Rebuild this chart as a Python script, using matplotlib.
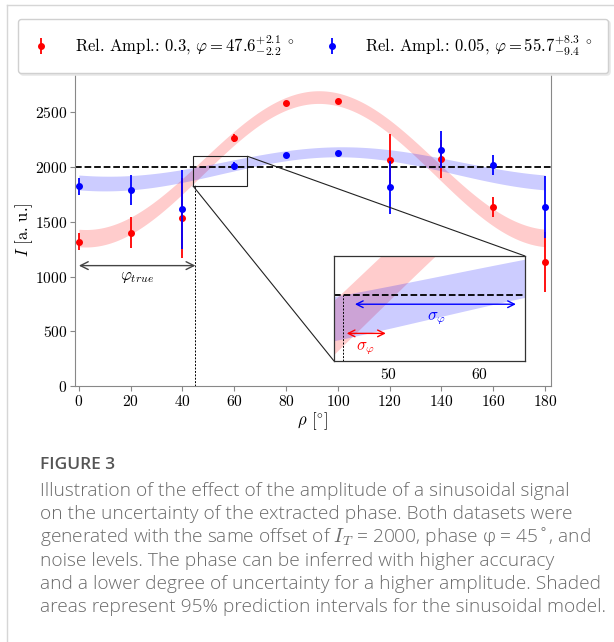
import numpy as np
import matplotlib
matplotlib.use('Agg')
import matplotlib.pyplot as plt
from matplotlib.lines import Line2D
from mpl_toolkits.axes_grid1.inset_locator import mark_inset

# ---- data ----
rho = [0, 20, 40, 60, 80, 100, 120, 140, 160, 180]
red_I = [1320, 1400, 1535, 2265, 2585, 2600, 2065, 2075, 1635, 1130]
red_err = [80, 140, 365, 40, 15, 25, 240, 177, 88, 275]
blue_I = [1825, 1790, 1615, 2010, 2115, 2130, 1815, 2160, 2018, 1635]
blue_err = [76, 140, 360, 35, 12, 20, 240, 170, 90, 282]

# sinusoidal model parameters (offset, amplitude, phase, half-width at ends / at middle)
red_model = [1995, 645, 47.6, 80, 58]
blue_model = [1995, 145, 55.7, 68, 45]
red_phi_err = [2.2, 2.1]
blue_phi_err = [9.4, 8.3]
offset_true = 2000
phi_true = 45

red_label = r'Rel. Ampl.: 0.3, $\varphi = 47.6^{+2.1}_{-2.2}$ $^{\circ}$'
blue_label = r'Rel. Ampl.: 0.05, $\varphi = 55.7^{+8.3}_{-9.4}$ $^{\circ}$'

caption_title = 'FIGURE 3'
caption_lines = [
    'Illustration of the effect of the amplitude of a sinusoidal signal',
    'on the uncertainty of the extracted phase. Both datasets were',
    r'generated with the same offset of $I_T$ = 2000, phase φ = 45˚, and',
    'noise levels. The phase can be inferred with higher accuracy',
    'and a lower degree of uncertainty for a higher amplitude. Shaded',
    'areas represent 95% prediction intervals for the sinusoidal model.',
]

plt.rcParams['font.family'] = 'cmr10'
plt.rcParams['mathtext.fontset'] = 'cm'
plt.rcParams['axes.formatter.use_mathtext'] = True

W, H = 614, 642
fig = plt.figure(figsize=(W / 100, H / 100), dpi=100)

grid = np.linspace(0, 180, 721)


def band(params):
    off, amp, phi, hw_end, hw_mid = params
    c = off + amp * np.sin(np.radians(2 * (grid - phi)))
    hw = hw_mid + (hw_end - hw_mid) * np.cos(np.radians(grid)) ** 2
    return c - hw, c + hw


def draw_common(a):
    lo, hi = band(red_model)
    a.fill_between(grid, lo, hi, color='red', alpha=0.2, lw=0, zorder=1)
    lo, hi = band(blue_model)
    a.fill_between(grid, lo, hi, color='blue', alpha=0.2, lw=0, zorder=1)
    a.axhline(offset_true, color='k', ls='--', lw=1.3, zorder=2)


# main axes
ax = fig.add_axes([75 / W, 1 - 386 / H, 476 / W, 313 / H])
draw_common(ax)
ax.plot([phi_true, phi_true], [0, 1833], color='k', lw=0.7, dashes=(2, 1.5), zorder=2)
eb_r = ax.errorbar(rho, red_I, yerr=red_err, fmt='o', color='red', ms=4,
                   elinewidth=1.3, capsize=0, zorder=3)
eb_b = ax.errorbar(rho, blue_I, yerr=blue_err, fmt='o', color='blue', ms=4,
                   elinewidth=1.3, capsize=0, zorder=4)
ax.annotate('', xy=(0, 1100), xytext=(phi_true, 1100),
            arrowprops=dict(arrowstyle='<->', color='#444444', lw=1,
                            mutation_scale=14, shrinkA=0, shrinkB=0))
ax.text(phi_true / 2, 990, r'$\varphi_{true}$', ha='center', va='center', fontsize=12)

ax.set_xlim(-1.5, 182.3)
ax.set_ylim(0, 2860)
ax.set_xticks(range(0, 181, 20))
ax.set_yticks(range(0, 2501, 500))
ax.tick_params(labelsize=11.2, length=3.5, pad=2, color='#888888', direction='out')
for s in ax.spines.values():
    s.set_color('#888888')
ax.spines['top'].set_visible(False)
ax.set_xlabel(r'$\rho$ [$^{\circ}$]', fontsize=12)
ax.set_ylabel(r'$I$ [a. u.]', fontsize=12)
ax.xaxis.set_label_coords(0.5, (386 - 421) / 313, transform=ax.transAxes)
ax.yaxis.set_label_coords((24 - 75) / 476, 0.5, transform=ax.transAxes)
ax.xaxis.label.set_va('center')
ax.yaxis.label.set_va('center')

# inset
axins = fig.add_axes([334 / W, 1 - 361 / H, 191 / W, 105 / H])
draw_common(axins)
axins.plot([phi_true, phi_true], [1830, offset_true], color='k', lw=0.7,
           dashes=(2, 1.5), zorder=2)
for model, err, col, ya, yt in [(red_model, red_phi_err, 'red', 1901, 1862),
                                (blue_model, blue_phi_err, 'blue', 1976, 1940)]:
    phi = model[2]
    axins.annotate('', xy=(phi - err[0], ya), xytext=(phi + err[1], ya),
                   arrowprops=dict(arrowstyle='<->', color=col, lw=1,
                                   mutation_scale=12, shrinkA=0, shrinkB=0))
    axins.text(phi - 0.2 if col == 'red' else phi - 0.4, yt, r'$\sigma_\varphi$',
               color=col, ha='center', va='center', fontsize=12)
axins.set_xlim(44, 65)
axins.set_ylim(1830, 2100)
axins.set_xticks([50, 60])
axins.set_yticks([])
axins.tick_params(labelsize=11.2, length=0, pad=4)
for s in axins.spines.values():
    s.set_color('#333333')
    s.set_linewidth(0.9)
mark_inset(ax, axins, loc1=1, loc2=3, fc='none', ec='#222222', lw=0.8)

# legend across the top
fig.legend([eb_r, eb_b], [red_label, blue_label], loc='lower left',
           bbox_to_anchor=(18 / W, 1 - 73 / H, 590 / W, 34 / H), mode='expand',
           ncol=2, fontsize=12, frameon=True, fancybox=True, framealpha=1,
           edgecolor='#d0d0d0', borderaxespad=0, handlelength=1.0,
           handletextpad=1.5, borderpad=0.9, columnspacing=1.0,
           shadow={'color': '#e8e8e8', 'ox': 1.5, 'oy': -1.5, 'alpha': 1})

# card border
fig.add_artist(Line2D([7 / W, 7 / W], [0, 1 - 5 / H], transform=fig.transFigure,
                      color='#d6d6d6', lw=1))
fig.add_artist(Line2D([7 / W, 1], [1 - 5 / H, 1 - 5 / H], transform=fig.transFigure,
                      color='#d6d6d6', lw=1))

# caption
fig.text(40 / W, 1 - 469 / H, caption_title, fontfamily='Open Sans', fontsize=12.5,
         color='#555555', weight='semibold', va='baseline')
for i, line in enumerate(caption_lines):
    fig.text(40 / W, 1 - (496 + 23.2 * i) / H, line, fontfamily='Open Sans',
             fontsize=13.8, color='#6a6a6a', weight='light', va='baseline')

fig.savefig('out.png', dpi=100)
